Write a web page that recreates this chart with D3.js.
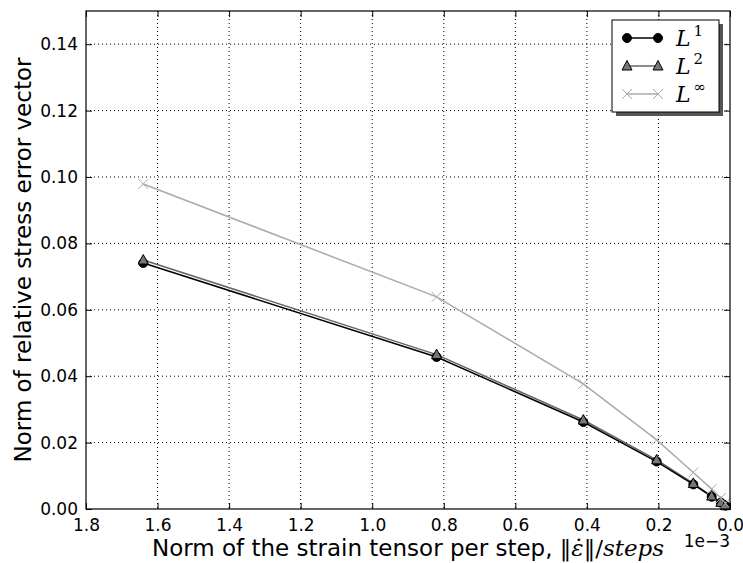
<!DOCTYPE html>
<html>
<head>
<meta charset="utf-8">
<script src="https://cdn.jsdelivr.net/npm/d3@7"></script>
<style>
  body { margin: 0; background: #fff; }
  text { font-family: "DejaVu Sans", sans-serif; }
  .grid line { stroke: #000; stroke-width: 1; stroke-dasharray: 1,3; }
  .axis path, .axis line { stroke: #000; }
  .axis text { font-size: 17px; fill: #000; }
</style>
</head>
<body>
<div id="chart"></div>
<script>
(function() {
  // strain per step (raw values, shown in units of 1e-3)
  var strain = [0.00164, 0.00082, 0.00041, 0.000205, 0.0001025, 0.00005125, 0.0000256, 0.0000128];
  var errL1 = [0.0741, 0.0458, 0.0262, 0.0143, 0.0074, 0.0037, 0.0019, 0.0010];
  var errL2 = [0.0750, 0.0465, 0.0268, 0.0148, 0.0077, 0.0039, 0.0020, 0.0010];
  var errLinf = [0.0979, 0.0639, 0.0377, 0.0208, 0.0110, 0.0060, 0.0033, 0.0017];
  var xTicks = [1.8, 1.6, 1.4, 1.2, 1.0, 0.8, 0.6, 0.4, 0.2, 0.0];
  var yTicks = [0, 0.02, 0.04, 0.06, 0.08, 0.10, 0.12, 0.14];

  var series = [
    {name: "1", values: errL1, line: "#000", marker: "circle", fill: "#000"},
    {name: "2", values: errL2, line: "#666", marker: "triangle", fill: "#777"},
    {name: "\u221e", values: errLinf, line: "#aaa", marker: "cross", fill: "none"}
  ];

  var outerWidth = 743, outerHeight = 563;
  var margin = {top: 11, right: 13, bottom: 54, left: 86},
      width = outerWidth - margin.left - margin.right,
      height = outerHeight - margin.top - margin.bottom;

  var svg = d3.select("#chart").append("svg")
      .attr("width", outerWidth)
      .attr("height", outerHeight)
    .append("g")
      .attr("transform", "translate(" + margin.left + "," + margin.top + ")");

  var x = d3.scaleLinear().domain([1.8e-3, 0]).range([0, width]);
  var y = d3.scaleLinear().domain([0, 0.15]).range([height, 0]);

  // grid
  svg.append("g").attr("class", "grid")
    .selectAll("line").data(xTicks.slice(1, -1))
    .enter().append("line")
      .attr("x1", d => x(d * 1e-3)).attr("x2", d => x(d * 1e-3))
      .attr("y1", 0).attr("y2", height);

  svg.append("g").attr("class", "grid")
    .selectAll("line").data(yTicks.slice(1))
    .enter().append("line")
      .attr("y1", d => y(d)).attr("y2", d => y(d))
      .attr("x1", 0).attr("x2", width);

  // axes, ticks pointing inward
  svg.append("g").attr("class", "axis")
      .attr("transform", "translate(0," + height + ")")
      .call(d3.axisBottom(x).tickValues(xTicks.map(d => d * 1e-3)).tickSize(-6).tickPadding(10)
        .tickFormat(d => d3.format(".1f")(d / 1e-3)))
      .call(g => g.select(".domain").remove());

  svg.append("g").attr("class", "axis")
      .call(d3.axisTop(x).tickValues(xTicks.map(d => d * 1e-3)).tickSize(-6).tickFormat(""))
      .call(g => g.select(".domain").remove());

  svg.append("g").attr("class", "axis")
      .call(d3.axisLeft(y).tickValues(yTicks).tickSize(-6).tickPadding(8).tickFormat(d3.format(".2f")))
      .call(g => g.select(".domain").remove());

  svg.append("g").attr("class", "axis")
      .attr("transform", "translate(" + width + ",0)")
      .call(d3.axisRight(y).tickValues(yTicks).tickSize(-6).tickFormat(""))
      .call(g => g.select(".domain").remove());

  // lines and markers
  var line = d3.line()
      .x((d, i) => x(strain[i]))
      .y(d => y(d));

  var plot = svg.append("g");

  series.slice().reverse().forEach(function(s) {
    plot.append("path")
      .datum(s.values)
      .attr("fill", "none")
      .attr("stroke", s.line)
      .attr("stroke-width", 1.5)
      .attr("d", line);
  });

  function drawMarker(g, s, cx, cy) {
    if (s.marker == "circle") {
      g.append("circle").attr("cx", cx).attr("cy", cy).attr("r", 4.5)
        .attr("fill", s.fill).attr("stroke", "#000");
    } else if (s.marker == "triangle") {
      g.append("path")
        .attr("transform", "translate(" + cx + "," + cy + ")")
        .attr("d", "M0,-5.5L5,4L-5,4Z")
        .attr("fill", s.fill).attr("stroke", "#000").attr("stroke-width", 1);
    } else {
      g.append("path")
        .attr("transform", "translate(" + cx + "," + cy + ")")
        .attr("d", "M-5,-5L5,5M-5,5L5,-5")
        .attr("stroke", s.line).attr("stroke-width", 1);
    }
  }

  series.forEach(function(s) {
    s.values.forEach(function(v, i) {
      drawMarker(plot, s, x(strain[i]), y(v));
    });
  });

  // frame
  svg.append("rect")
    .attr("width", width).attr("height", height)
    .attr("fill", "none").attr("stroke", "#000").attr("stroke-width", 1.2);

  // legend
  var legend = svg.append("g")
    .attr("transform", "translate(" + (width - 118) + ",9)");

  legend.append("rect")
    .attr("x", 4).attr("y", 4).attr("width", 107).attr("height", 92)
    .attr("fill", "#555");
  legend.append("rect")
    .attr("width", 107).attr("height", 92)
    .attr("fill", "#fff").attr("stroke", "#000").attr("stroke-width", 1);

  series.forEach(function(s, i) {
    var ly = 18 + i * 28;
    legend.append("line")
      .attr("x1", 15).attr("x2", 46).attr("y1", ly).attr("y2", ly)
      .attr("stroke", s.line).attr("stroke-width", 1.5);
    drawMarker(legend, s, 15, ly);
    drawMarker(legend, s, 46, ly);
    var t = legend.append("text")
      .attr("x", 64).attr("y", ly + 8)
      .style("font-family", "'DejaVu Serif', serif")
      .style("font-size", "22px");
    t.append("tspan").style("font-style", "italic").text("L");
    t.append("tspan").attr("dy", -10).attr("dx", 3).style("font-size", "15px").text(s.name);
  });

  // axis labels
  var xl = svg.append("text")
    .attr("x", width / 2).attr("y", height + 47)
    .attr("text-anchor", "middle")
    .style("font-size", "23px");
  xl.append("tspan").text("Norm of the strain tensor per step, ");
  xl.append("tspan").style("font-family", "'DejaVu Serif', serif").text("\u2016");
  xl.append("tspan").style("font-family", "'DejaVu Serif', serif").style("font-style", "italic").text("\u03b5\u0307");
  xl.append("tspan").style("font-family", "'DejaVu Serif', serif").text("\u2016/");
  xl.append("tspan").style("font-family", "'DejaVu Serif', serif").style("font-style", "italic").text("steps");

  svg.append("text")
    .attr("x", width).attr("y", height + 38)
    .attr("text-anchor", "end")
    .style("font-size", "17px")
    .text("1e\u22123");

  svg.append("text")
    .attr("transform", "translate(" + (-55) + "," + (height / 2) + ") rotate(-90)")
    .attr("text-anchor", "middle")
    .style("font-size", "23px")
    .text("Norm of relative stress error vector");
})();
</script>
</body>
</html>
